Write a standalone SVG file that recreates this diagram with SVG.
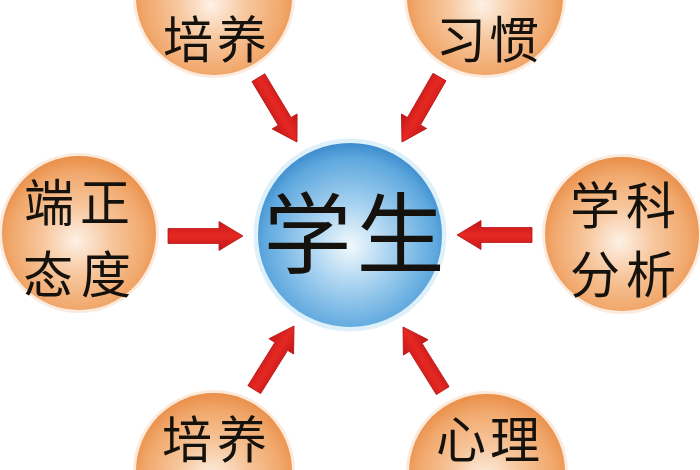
<svg xmlns="http://www.w3.org/2000/svg" xmlns:xlink="http://www.w3.org/1999/xlink" width="700" height="470" viewBox="0 0 700 470">
  <defs>
    <radialGradient id="gOrange" cx="0.5" cy="0.55" r="0.55" fx="0.48" fy="0.55">
      <stop offset="0" stop-color="#fdf1e6"/>
      <stop offset="0.4" stop-color="#f7c79e"/>
      <stop offset="0.8" stop-color="#f1a86c"/>
      <stop offset="1" stop-color="#e98f4a"/>
    </radialGradient>
    <radialGradient id="gBlue" cx="0.5" cy="0.55" r="0.55" fx="0.5" fy="0.56">
      <stop offset="0" stop-color="#f2f9fd"/>
      <stop offset="0.4" stop-color="#a9d3f0"/>
      <stop offset="0.85" stop-color="#5ea8de"/>
      <stop offset="1" stop-color="#3c8ccd"/>
    </radialGradient>
    <linearGradient id="gRed" x1="0" y1="0" x2="0" y2="1">
      <stop offset="0" stop-color="#c8171a"/>
      <stop offset="0.5" stop-color="#e52822"/>
      <stop offset="1" stop-color="#c01518"/>
    </linearGradient>
    <polygon id="arrow" points="0,0 -24,-14.5 -24,-7.5 -75,-7.5 -75,7.5 -24,7.5 -24,14.5"/>
  </defs>
  <style>
    .orange { fill: url(#gOrange); }
    .halo-o { fill: none; stroke: #fbe3cf; stroke-width: 4; opacity: 0.7; }
    .halo-b { fill: none; stroke: #d6ecf8; stroke-width: 5; opacity: 0.8; }
    .blue { fill: url(#gBlue); }
    .lbl { font-family: "Noto Sans CJK SC", "Noto Sans CJK JP", sans-serif; font-size: 50px; fill: #15110c; text-anchor: middle; }
    .big { font-size: 88px; }
    .arr { fill: url(#gRed); stroke: #b81416; stroke-width: 0.8; }
  </style>
  <rect width="700" height="470" fill="#ffffff"/>

  <g id="node-center">
    <circle class="halo-b" cx="350" cy="235" r="94"/>
    <circle class="blue" cx="350" cy="235" r="92"/>
    <text class="lbl big" x="307.5 400.5" y="266">学生</text>
  </g>

  <g id="node-top-left">
    <circle class="halo-o" cx="214" cy="-3" r="79"/>
    <circle class="orange" cx="214" cy="-3" r="78"/>
    <text class="lbl" x="188 242" y="58">培养</text>
  </g>

  <g id="node-top-right">
    <circle class="halo-o" cx="485" cy="-3" r="79"/>
    <circle class="orange" cx="485" cy="-3" r="78"/>
    <text class="lbl" x="461 514" y="58">习惯</text>
  </g>

  <g id="node-left">
    <circle class="halo-o" cx="79" cy="233" r="78"/>
    <circle class="orange" cx="79" cy="233" r="77"/>
    <text class="lbl" x="49 105" y="221">端正</text>
    <text class="lbl" x="48 106" y="293">态度</text>
  </g>

  <g id="node-right">
    <circle class="halo-o" cx="622" cy="234" r="78"/>
    <circle class="orange" cx="622" cy="234" r="77"/>
    <text class="lbl" x="595 651" y="224">学科</text>
    <text class="lbl" x="595 651" y="293">分析</text>
  </g>

  <g id="node-bottom-left">
    <circle class="halo-o" cx="214" cy="471" r="79"/>
    <circle class="orange" cx="214" cy="471" r="78"/>
    <text class="lbl" x="187 242" y="458">培养</text>
  </g>

  <g id="node-bottom-right">
    <circle class="halo-o" cx="487" cy="472" r="79"/>
    <circle class="orange" cx="487" cy="472" r="78"/>
    <text class="lbl" x="461 515" y="458">心理</text>
  </g>

  <g id="connectors">
    <use xlink:href="#arrow" class="arr" transform="translate(243,236)"/>
    <use xlink:href="#arrow" class="arr" transform="translate(457,235) rotate(180)"/>
    <use xlink:href="#arrow" class="arr" transform="translate(297,142) rotate(59)"/>
    <use xlink:href="#arrow" class="arr" transform="translate(402,142) rotate(120)"/>
    <use xlink:href="#arrow" class="arr" transform="translate(294,326) rotate(-58)"/>
    <use xlink:href="#arrow" class="arr" transform="translate(403,327) rotate(-122)"/>
  </g>
</svg>
